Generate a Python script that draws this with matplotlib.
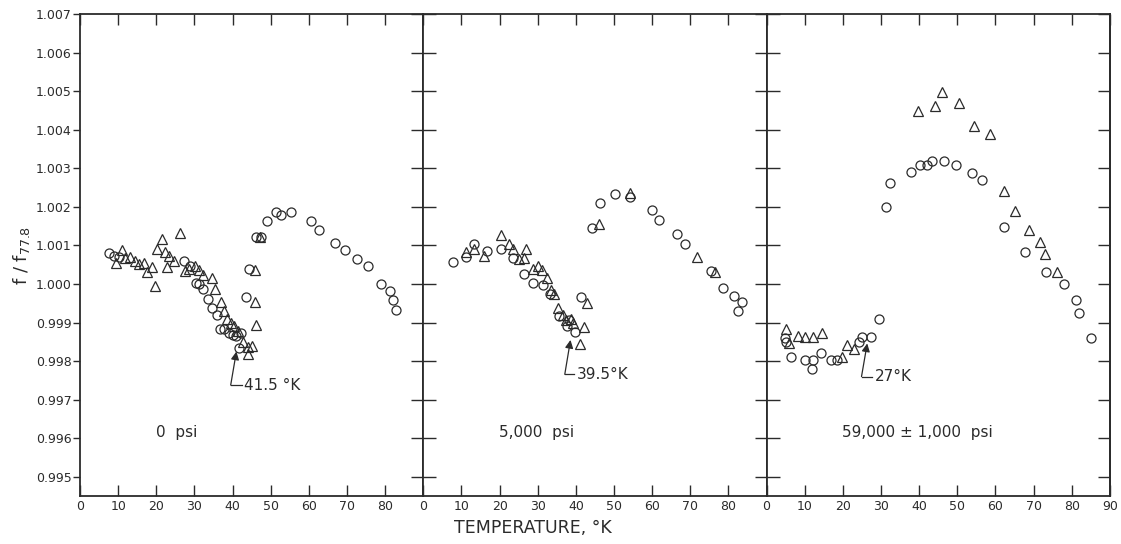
import matplotlib
matplotlib.use('Agg')
import matplotlib.pyplot as plt
import numpy as np

# ---- data (temperature in K, f/f77.8) ----
# 0 psi
T0_circ = [7.6, 9.0, 10.2, 27.2, 28.9, 30.3, 31.3, 32.2, 33.5, 34.5, 35.9, 36.6, 37.8, 39.1, 40.0,
           40.9, 42.3, 41.8, 43.4, 44.4, 46.2, 47.4, 49.1, 51.4, 52.7, 55.2, 60.6, 62.7, 66.8,
           69.6, 72.6, 75.6, 78.8, 81.4, 82.1, 82.8]
f0_circ = [1.00080, 1.00074, 1.00071, 1.00060, 1.00047, 1.00003, 1.00000, 0.99987, 0.99962, 0.99938,
           0.99919, 0.99883, 0.99883, 0.99874, 0.99868, 0.99866, 0.99874, 0.99835, 0.99966, 1.00040,
           1.00123, 1.00123, 1.00164, 1.00188, 1.00180, 1.00186, 1.00164, 1.00140, 1.00107,
           1.00088, 1.00065, 1.00046, 1.00000, 0.99981, 0.99959, 0.99934]
T0_tri = [9.3, 11.0, 11.9, 13.2, 14.4, 15.5, 16.7, 17.6, 18.8, 19.7, 20.2, 21.4, 22.4, 22.7, 23.4,
          24.7, 26.3, 27.6, 28.5, 30.1, 31.2, 32.3, 34.5, 35.3, 36.9, 37.8, 38.5, 39.5, 40.4,
          41.3, 42.7, 44.0, 45.0, 44.0, 46.2, 46.0, 46.0, 47.3]
f0_tri = [1.00055, 1.00088, 1.00067, 1.00069, 1.00060, 1.00053, 1.00055, 1.00032, 1.00045, 0.99995,
          1.00091, 1.00116, 1.00083, 1.00045, 1.00072, 1.00060, 1.00133, 1.00034, 1.00039, 1.00047,
          1.00036, 1.00023, 1.00017, 0.99986, 0.99953, 0.99929, 0.99910, 0.99898, 0.99890,
          0.99878, 0.99850, 0.99838, 0.99840, 0.99819, 0.99894, 0.99953, 1.00036, 1.00123]

# 5,000 psi
T1_circ = [7.7, 11.3, 13.4, 16.8, 20.4, 23.4, 26.3, 28.8, 31.4, 33.2, 35.7, 37.6, 38.3, 39.9, 41.3,
           44.2, 46.3, 50.2, 54.2, 59.9, 61.9, 66.4, 68.5, 75.4, 78.6, 81.5, 83.6, 82.5]
f1_circ = [1.00058, 1.00071, 1.00105, 1.00086, 1.00090, 1.00067, 1.00027, 1.00004, 0.99998, 0.99975,
           0.99918, 0.99892, 0.99906, 0.99876, 0.99967, 1.00146, 1.00209, 1.00233, 1.00225,
           1.00191, 1.00166, 1.00130, 1.00105, 1.00034, 0.99989, 0.99969, 0.99953, 0.99930]
T1_tri = [11.3, 13.4, 16.0, 20.3, 22.4, 23.4, 25.2, 26.3, 27.0, 28.8, 30.2, 31.0, 32.4, 33.6, 34.4,
          35.3, 36.6, 37.4, 38.7, 39.2, 42.1, 41.0, 43.0, 46.2, 54.2, 71.8, 76.5]
f1_tri = [1.00082, 1.00091, 1.00074, 1.00127, 1.00105, 1.00092, 1.00064, 1.00067, 1.00090, 1.00039,
          1.00047, 1.00036, 1.00017, 0.99984, 0.99973, 0.99937, 0.99921, 0.99907, 0.99910, 0.99900,
          0.99889, 0.99844, 0.99950, 1.00157, 1.00235, 1.00069, 1.00030]

# 59,000 +- 1,000 psi
T2_circ = [4.8, 5.0, 6.3, 10.0, 12.1, 12.0, 14.2, 17.0, 18.5, 24.2, 24.9, 27.4, 29.4, 31.4, 32.3,
           37.9, 40.2, 42.0, 43.5, 46.4, 49.8, 53.9, 56.6, 62.2, 67.8, 73.3, 77.9, 81.1, 82.0, 85.0]
f2_circ = [0.99860, 0.99851, 0.99810, 0.99802, 0.99802, 0.99780, 0.99821, 0.99802, 0.99802, 0.99850,
           0.99862, 0.99862, 0.99910, 1.00200, 1.00261, 1.00290, 1.00310, 1.00308, 1.00320,
           1.00318, 1.00309, 1.00288, 1.00270, 1.00149, 1.00084, 1.00030, 1.00000, 0.99959,
           0.99924, 0.99861]
T2_tri = [5.2, 5.8, 8.3, 10.2, 12.1, 14.6, 19.8, 21.1, 22.9, 39.8, 44.3, 46.0, 50.4, 54.5, 58.5,
          62.2, 65.2, 68.9, 71.6, 73.1, 76.1]
f2_tri = [0.99884, 0.99846, 0.99864, 0.99862, 0.99862, 0.99873, 0.99810, 0.99841, 0.99832, 1.00450,
          1.00461, 1.00499, 1.00470, 1.00411, 1.00390, 1.00241, 1.00190, 1.00140, 1.00110,
          1.00079, 1.00032]

panel_labels = ['0  psi', '5,000  psi', '59,000 ± 1,000  psi']
transition_labels = ['41.5 °K', '39.5°K', '27°K']
transition_T = [41.0, 38.6, 26.4]
transition_f = [0.99825, 0.99855, 0.99846]

yticks = np.round(np.arange(0.995, 1.0071, 0.001), 3)

ink = '#2b2b2b'
plt.rcParams['font.family'] = 'DejaVu Sans'

fig, axes = plt.subplots(1, 3, sharey=True, figsize=(11.21, 5.44), dpi=100)
fig.subplots_adjust(left=0.0714, right=0.990, top=0.974, bottom=0.088, wspace=0)

series = [(T0_circ, f0_circ, T0_tri, f0_tri),
          (T1_circ, f1_circ, T1_tri, f1_tri),
          (T2_circ, f2_circ, T2_tri, f2_tri)]
elbows = [(39.5, 0.99738, 43.0), (37.1, 0.99766, 40.2), (24.9, 0.99760, 28.3)]

for i, ax in enumerate(axes):
    tc, fc, tt, ft = series[i]
    ax.plot(tc, fc, 'o', ms=6.5, mfc='none', mec=ink, mew=0.9)
    ax.plot(tt, ft, '^', ms=6.5, mfc='none', mec=ink, mew=0.9)

    ax.set_xlim(0, 90)
    ax.set_ylim(0.9945, 1.007)
    if i < 2:
        ax.set_xticks(np.arange(0, 81, 10))
    else:
        ax.set_xticks(np.arange(0, 91, 10))
    ax.tick_params(axis='x', direction='in', top=True, length=8, width=1.0,
                   labelsize=9, colors=ink, pad=3)
    for s in ax.spines.values():
        s.set_color(ink)
        s.set_linewidth(1.3)

    # panel text and transition arrow
    ax.text(19.8, 0.99615, panel_labels[i], fontsize=11, color=ink, va='center')
    ex, ey, tx = elbows[i]
    ax.plot([ex, tx - 0.6], [ey, ey], color=ink, lw=0.9)
    ax.annotate('', xy=(transition_T[i], transition_f[i]), xytext=(ex, ey),
                arrowprops=dict(arrowstyle='-|>', color=ink, lw=0.9,
                                mutation_scale=12, shrinkA=0, shrinkB=0))
    ax.text(tx, ey, transition_labels[i], fontsize=11, color=ink, va='center')

axes[0].set_yticks(yticks)
axes[0].set_yticklabels(['%.3f' % v for v in yticks])
axes[0].tick_params(axis='y', direction='out', length=5, width=1.0, labelsize=9,
                    colors=ink, pad=1)
axes[1].tick_params(axis='y', direction='inout', length=18, width=1.0, colors=ink)
axes[2].tick_params(axis='y', direction='inout', length=18, width=1.0, colors=ink)
right = axes[2].secondary_yaxis('right')
right.set_yticks(yticks)
right.tick_params(axis='y', direction='in', length=9, width=1.0, labelright=False, colors=ink)
right.spines['right'].set_color(ink)
right.spines['right'].set_linewidth(1.3)

axes[0].set_ylabel('f / f$_{77.8}$', fontsize=13, color=ink, labelpad=3)
fig.text(0.475, 0.029, 'TEMPERATURE, °K', fontsize=12.5, color=ink, ha='center', va='center')

fig.savefig('out.png', dpi=100)
